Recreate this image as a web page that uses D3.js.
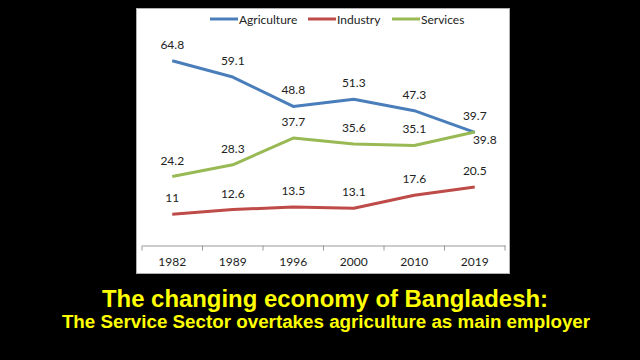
<!DOCTYPE html>
<html><head><meta charset="utf-8">
<script src="https://cdn.jsdelivr.net/npm/d3@7"></script>
<style>html,body{margin:0;padding:0;background:#000;}svg{display:block;}</style>
</head><body>
<svg id="c" width="640" height="360"></svg>
<script>
const years = ["1982","1989","1996","2000","2010","2019"];
const seriesNames = ["Agriculture","Industry","Services"];
const agriculture = [64.8,59.1,48.8,51.3,47.3,39.7];
const industry = [11,12.6,13.5,13.1,17.6,20.5];
const services = [24.2,28.3,37.7,35.6,35.1,39.8];
const colors = ["#4a7ebb","#be4b48","#98b954"];
const title = "The changing economy of Bangladesh:";
const subtitle = "The Service Sector overtakes agriculture as main employer";

const svg = d3.select("#c");
svg.append("rect").attr("width",640).attr("height",360).attr("fill","#000");
svg.append("rect").attr("x",136.5).attr("y",8.5).attr("width",373).attr("height",265)
  .attr("fill","#fff").attr("stroke","#b0b0b0");

const x = d3.scaleBand().domain(years).range([142,505]);
const y = d3.scaleLinear().domain([0,70]).range([245.5,46]);

const font = "Lato, 'Open Sans', sans-serif";
// axis
const ax = svg.append("g").attr("transform","translate(0,245.5)")
  .call(d3.axisBottom(x).tickSize(0).tickPadding(12));
ax.select(".domain").attr("stroke","#999");
ax.selectAll("text").attr("font-family",font).attr("font-size",12).attr("fill","#222");
const bounds = years.map(d=>x(d)).concat([x.range()[1]]);
svg.append("g").selectAll("line").data(bounds).join("line")
  .attr("x1",d=>d).attr("x2",d=>d).attr("y1",245.5).attr("y2",250.5).attr("stroke","#999");

const data = [agriculture, industry, services];
const line = d3.line().x((d,i)=>x(years[i])+x.bandwidth()/2).y(d=>y(d));
data.forEach((s,k)=>{
  svg.append("path").datum(s).attr("d",line).attr("fill","none")
    .attr("stroke",colors[k]).attr("stroke-width",3).attr("stroke-linejoin","round");
});
// labels
data.forEach((s,k)=>{
  svg.append("g").selectAll("text").data(s).join("text")
    .attr("x",(d,i)=>{
      const cx = x(years[i])+x.bandwidth()/2;
      return (k===2 && i===5) ? cx+10 : cx;
    })
    .attr("y",(d,i)=> (k===2 && i===5) ? y(d)+12 : y(d)-12)
    .attr("text-anchor","middle")
    .attr("font-family",font).attr("font-size",12).attr("fill","#222")
    .text(d=>d);
});
// legend
const legX = [210,308,392];
seriesNames.forEach((n,k)=>{
  svg.append("line").attr("x1",legX[k]).attr("x2",legX[k]+28).attr("y1",19).attr("y2",19)
    .attr("stroke",colors[k]).attr("stroke-width",3);
  svg.append("text").attr("x",legX[k]+29).attr("y",23.5).attr("font-family",font)
    .attr("font-size",12).attr("fill","#222").text(n);
});
// titles
svg.append("text").attr("x",325).attr("y",307).attr("text-anchor","middle")
  .attr("font-family","'Liberation Sans', Arial, sans-serif").attr("font-weight","bold")
  .attr("font-size",23.9).attr("fill","#ffff00").text(title);
svg.append("text").attr("x",326).attr("y",327.5).attr("text-anchor","middle")
  .attr("font-family","'Liberation Sans', Arial, sans-serif").attr("font-weight","bold")
  .attr("font-size",18.8).attr("fill","#ffff00").text(subtitle);
</script>
</body></html>
